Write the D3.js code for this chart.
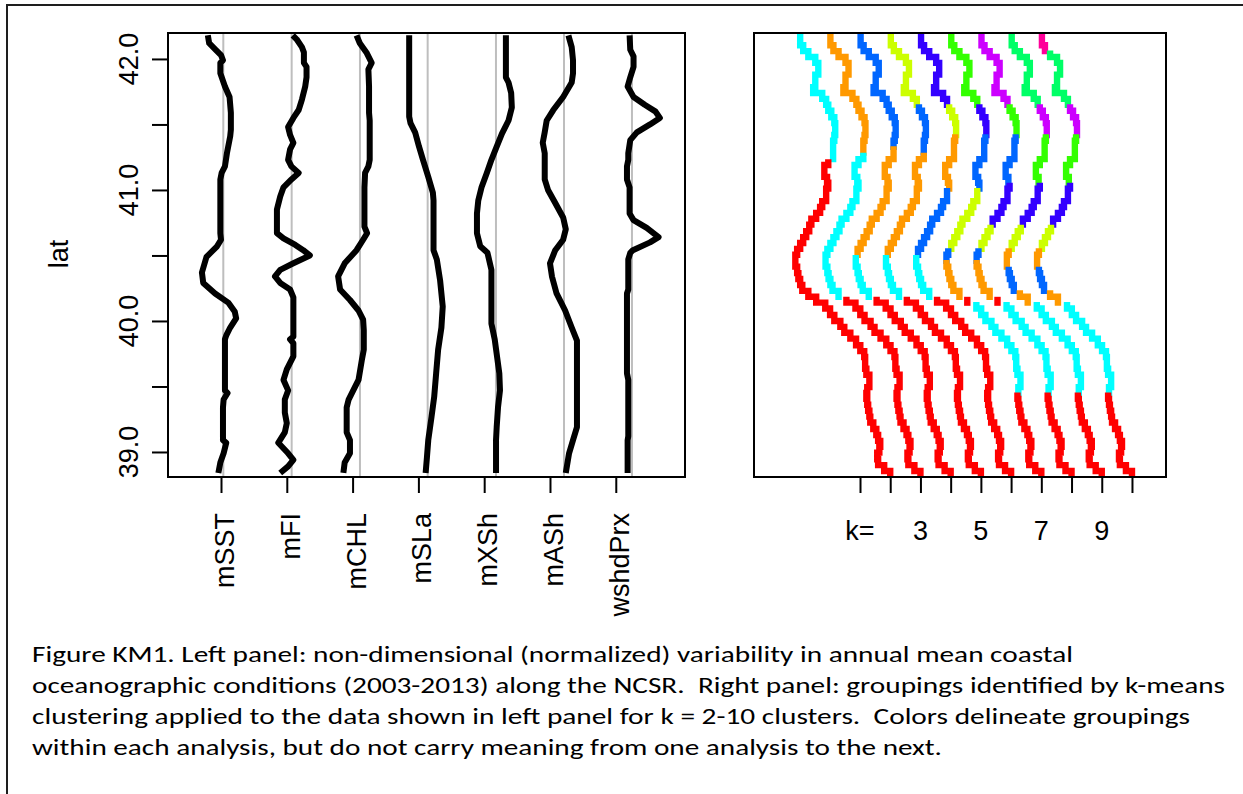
<!DOCTYPE html>
<html>
<head>
<meta charset="utf-8">
<script src="https://cdn.jsdelivr.net/npm/d3@7"></script>
<style>
  html, body { margin: 0; padding: 0; background: #fff; }
  svg { display: block; }
</style>
</head>
<body>
<svg id="fig" width="1243" height="794"></svg>
<script>
// ---------------- data ----------------
// Left panel: normalized profiles along latitude, [lat, x] with x in axis units
const variables = ["mSST", "mFI", "mCHL", "mSLa", "mXSh", "mASh", "wshdPrx"];
const guidePos = [1.035, 2.074, 3.112, 4.141, 5.179, 6.213, 7.246];

const mSST = [[42.18,0.80],[42.12,0.82],[42.07,0.92],[42.03,1.00],[41.99,1.03],[41.97,0.99],[41.89,0.99],[41.79,1.06],[41.71,1.13],[41.59,1.15],[41.46,1.15],[41.41,1.14],[41.28,1.09],[41.18,1.06],[41.13,1.01],[41.08,0.99],[40.67,0.99],[40.62,1.00],[40.57,0.94],[40.49,0.78],[40.37,0.71],[40.29,0.73],[40.21,0.91],[40.14,1.11],[40.07,1.21],[40.02,1.23],[39.95,1.14],[39.89,1.08],[39.86,1.06],[39.47,1.06],[39.45,1.10],[39.40,1.04],[39.34,1.03],[39.09,1.03],[39.07,1.08],[38.99,1.04],[38.92,0.99],[38.84,0.96]];

const mFI = [[42.18,2.09],[42.15,2.15],[42.09,2.23],[42.05,2.26],[41.97,2.26],[41.94,2.30],[41.86,2.30],[41.79,2.28],[41.69,2.23],[41.61,2.18],[41.55,2.10],[41.48,2.02],[41.42,2.05],[41.36,2.10],[41.31,2.05],[41.23,2.02],[41.18,2.07],[41.13,2.18],[41.08,2.07],[41.02,1.95],[40.95,1.90],[40.85,1.85],[40.67,1.85],[40.63,1.95],[40.58,2.13],[40.54,2.25],[40.50,2.35],[40.44,2.10],[40.39,1.90],[40.34,1.82],[40.29,1.90],[40.24,2.05],[40.18,2.10],[39.88,2.10],[39.86,2.05],[39.83,2.10],[39.73,2.10],[39.63,2.00],[39.55,1.95],[39.47,2.02],[39.40,1.97],[39.30,1.97],[39.22,2.00],[39.15,1.97],[39.07,1.87],[38.99,2.02],[38.94,2.10],[38.89,2.02],[38.84,1.90]];

const mCHL = [[42.18,3.06],[42.12,3.11],[42.05,3.21],[41.97,3.29],[41.92,3.24],[41.79,3.25],[41.59,3.25],[41.53,3.26],[41.23,3.26],[41.18,3.24],[41.13,3.19],[41.02,3.18],[40.72,3.18],[40.67,3.22],[40.62,3.16],[40.54,3.06],[40.44,2.88],[40.34,2.78],[40.24,2.81],[40.16,2.96],[40.08,3.09],[40.01,3.16],[39.93,3.17],[39.78,3.17],[39.70,3.14],[39.55,3.09],[39.47,3.01],[39.40,2.94],[39.34,2.91],[39.15,2.91],[39.09,2.96],[38.99,2.96],[38.92,2.88],[38.84,2.86]];

const mSLa = [[42.18,3.86],[41.56,3.86],[41.51,3.88],[41.44,3.95],[41.33,4.01],[41.23,4.07],[41.10,4.15],[40.98,4.22],[40.92,4.23],[40.54,4.23],[40.47,4.28],[40.31,4.33],[40.11,4.37],[39.95,4.35],[39.78,4.30],[39.60,4.27],[39.42,4.24],[39.27,4.20],[39.09,4.15],[38.96,4.13],[38.84,4.11]];

const mXSh = [[42.18,5.33],[41.86,5.33],[41.82,5.37],[41.74,5.41],[41.63,5.42],[41.53,5.37],[41.43,5.27],[41.33,5.19],[41.23,5.11],[41.13,5.04],[41.02,4.96],[40.92,4.91],[40.82,4.89],[40.67,4.89],[40.57,4.94],[40.52,5.05],[40.39,5.11],[40.24,5.11],[39.98,5.11],[39.86,5.16],[39.60,5.23],[39.47,5.24],[39.34,5.21],[39.19,5.19],[39.09,5.18],[38.84,5.18]];

const mASh = [[42.18,6.28],[42.09,6.33],[41.99,6.35],[41.89,6.35],[41.82,6.33],[41.71,6.20],[41.61,6.05],[41.53,5.95],[41.44,5.92],[41.36,5.89],[41.28,5.92],[41.08,5.92],[41.00,5.97],[40.90,6.08],[40.79,6.20],[40.70,6.24],[40.62,6.20],[40.54,6.08],[40.44,6.00],[40.34,6.03],[40.21,6.10],[40.08,6.23],[39.95,6.33],[39.85,6.41],[39.19,6.41],[39.09,6.35],[38.99,6.29],[38.84,6.24]];

const wshdPrx = [[42.18,7.21],[42.07,7.22],[42.02,7.27],[41.94,7.27],[41.86,7.22],[41.79,7.18],[41.71,7.27],[41.65,7.44],[41.60,7.60],[41.55,7.67],[41.50,7.52],[41.44,7.32],[41.38,7.22],[41.28,7.19],[41.23,7.19],[41.18,7.17],[41.08,7.17],[41.02,7.21],[40.82,7.21],[40.77,7.27],[40.71,7.47],[40.64,7.65],[40.60,7.52],[40.54,7.26],[40.52,7.22],[40.47,7.19],[40.24,7.19],[40.21,7.17],[39.60,7.17],[39.55,7.19],[39.12,7.19],[39.09,7.18],[38.84,7.18]];

const profiles = [mSST, mFI, mCHL, mSLa, mXSh, mASh, wshdPrx];
const latTicks = [39.0, 39.5, 40.0, 40.5, 41.0, 41.5, 42.0];

// Right panel: k-means groupings along the coast for k = 2..10
const kValues = [2, 3, 4, 5, 6, 7, 8, 9, 10];
const kTickPos = [1, 2, 3, 4, 5, 6, 7, 8, 9, 10];
const kTickLabels = ["k=", "2", "3", "4", "5", "6", "7", "8", "9", "10"];

// sample latitudes (north to south) and the shared horizontal offset of each column
const sampleLat = [42.18,42.13,42.08,42.04,41.99,41.95,41.90,41.86,41.81,41.76,41.72,41.67,41.63,41.58,41.53,41.49,41.44,41.40,41.35,41.31,41.26,41.21,41.17,41.12,41.08,41.03,40.99,40.94,40.89,40.85,40.80,40.76,40.71,40.66,40.62,40.57,40.53,40.48,40.44,40.39,40.34,40.30,40.25,40.21,40.16,40.12,40.07,40.02,39.98,39.93,39.89,39.84,39.79,39.75,39.70,39.66,39.61,39.57,39.52,39.47,39.43,39.38,39.34,39.29,39.25,39.20,39.15,39.11,39.06,39.02,38.97,38.92,38.88,38.83];
const sampleShift = [-2.98,-2.98,-2.88,-2.71,-2.48,-2.38,-2.38,-2.48,-2.48,-2.55,-2.25,-2.12,-2.05,-1.95,-1.85,-1.82,-1.82,-1.85,-1.89,-1.89,-1.89,-2.05,-2.18,-2.18,-2.09,-2.05,-2.12,-2.12,-2.25,-2.32,-2.45,-2.61,-2.68,-2.78,-2.88,-2.98,-3.08,-3.14,-3.14,-3.08,-3.04,-2.98,-2.91,-2.71,-2.45,-2.15,-1.99,-1.85,-1.65,-1.52,-1.32,-1.13,-0.99,-0.86,-0.83,-0.83,-0.79,-0.69,-0.69,-0.76,-0.79,-0.76,-0.73,-0.69,-0.66,-0.56,-0.46,-0.40,-0.33,-0.36,-0.43,-0.40,-0.20,0.00];

// palette (rainbow of 10 hues)
const rainbow10 = ["#FF0000", "#FF9900", "#CCFF00", "#33FF00", "#00FF66",
                   "#00FFFF", "#0066FF", "#3300FF", "#CC00FF", "#FF0099"];

// cluster runs per k: [palette index, first sample index]
const clusterRuns = [
  [[5,0],[0,21]],
  [[1,0],[5,20],[0,44]],
  [[6,0],[1,19],[5,37],[0,44]],
  [[2,0],[6,12],[1,20],[5,37],[0,44]],
  [[7,0],[2,12],[1,17],[6,26],[5,37],[0,44]],
  [[3,0],[7,12],[6,17],[2,26],[6,36],[1,38],[0,44],[5,45],[0,60]],
  [[8,0],[3,12],[6,17],[7,25],[2,32],[6,36],[1,38],[0,44],[5,45],[0,60]],
  [[4,0],[8,12],[3,17],[7,25],[2,32],[1,36],[6,39],[1,43],[5,45],[0,60]],
  [[9,0],[4,3],[8,12],[3,17],[7,25],[2,32],[1,36],[6,39],[1,43],[5,45],[0,60]]
];

const captionLines = [
  "Figure KM1. Left panel: non-dimensional (normalized) variability in annual mean coastal",
  "oceanographic conditions (2003-2013) along the NCSR.  Right panel: groupings identified by k-means",
  "clustering applied to the data shown in left panel for k = 2-10 clusters.  Colors delineate groupings",
  "within each analysis, but do not carry meaning from one analysis to the next."
];

// ---------------- drawing ----------------
const svg = d3.select("#fig");
const AXFONT = "'Liberation Sans', Arial, Helvetica, sans-serif";
const AXSIZE = 27;
const TICK = 16;

// outer frame of the figure
svg.append("rect")
  .attr("x", 7).attr("y", 5).attr("width", 1300).attr("height", 900)
  .attr("fill", "none").attr("stroke", "#1e1e1e").attr("stroke-width", 2);

const plotTop = 33, plotBottom = 477;
const y = d3.scaleLinear().domain([38.809, 42.198]).range([plotBottom, plotTop]);
const xL = d3.scaleLinear().domain([0.1945, 8.052]).range([168, 685]);
const xR = d3.scaleLinear().domain([-2.508, 11.126]).range([754, 1166]);

// place labels in order, skipping any that would crowd the previous one
function thinLabels(sel, extent, gap) {
  let lastEnd = -Infinity;
  sel.each(function () {
    const [a, b] = extent(this);
    if (a < lastEnd + gap) d3.select(this).remove();
    else lastEnd = b;
  });
}

// ---- left panel ----
const left = svg.append("g");
left.append("clipPath").attr("id", "clipL").append("rect")
  .attr("x", 168).attr("y", plotTop).attr("width", 685 - 168).attr("height", plotBottom - plotTop);

left.append("g").selectAll("line").data(guidePos).join("line")
  .attr("x1", d => xL(d)).attr("x2", d => xL(d))
  .attr("y1", plotTop).attr("y2", plotBottom)
  .attr("stroke", "#bebebe").attr("stroke-width", 2);

const line = d3.line().x(d => xL(d[1])).y(d => y(d[0]));
left.append("g").attr("clip-path", "url(#clipL)")
  .selectAll("path").data(profiles).join("path")
  .attr("d", line)
  .attr("fill", "none").attr("stroke", "#000").attr("stroke-width", 6)
  .attr("stroke-linejoin", "round").attr("stroke-linecap", "butt");

left.append("rect")
  .attr("x", 168).attr("y", plotTop).attr("width", 685 - 168).attr("height", plotBottom - plotTop)
  .attr("fill", "none").attr("stroke", "#000").attr("stroke-width", 2);

// y axis
const yAxis = left.append("g").attr("transform", "translate(168,0)")
  .call(d3.axisLeft(y).tickValues(latTicks).tickSize(TICK).tickFormat(""));
yAxis.select(".domain").remove();
yAxis.selectAll(".tick line").attr("stroke", "#000").attr("stroke-width", 2);
left.append("line").attr("x1", 168).attr("x2", 168)
  .attr("y1", y(latTicks[0])).attr("y2", y(latTicks[latTicks.length - 1]))
  .attr("stroke", "#000").attr("stroke-width", 2);

const yLabels = left.append("g").selectAll("text").data(latTicks).join("text")
  .attr("transform", d => `translate(138,${y(d)}) rotate(-90)`)
  .attr("text-anchor", "middle")
  .attr("font-family", AXFONT).attr("font-size", AXSIZE).attr("fill", "#000")
  .text(d => d3.format(".1f")(d));
thinLabels(yLabels, el => {
  const w = el.getComputedTextLength();
  const c = -y(el.__data__);
  return [c - w / 2, c + w / 2];
}, AXSIZE * 0.833);

left.append("text")
  .attr("transform", `translate(68,254) rotate(-90)`)
  .attr("text-anchor", "middle")
  .attr("font-family", AXFONT).attr("font-size", AXSIZE).attr("fill", "#000")
  .text("lat");

// x axis (variable names)
const varTicks = variables.map((v, i) => i + 1);
const xAxisL = left.append("g").attr("transform", `translate(0,${plotBottom})`)
  .call(d3.axisBottom(xL).tickValues(varTicks).tickSize(TICK).tickFormat(""));
xAxisL.select(".domain").remove();
xAxisL.selectAll(".tick line").attr("stroke", "#000").attr("stroke-width", 2);
left.append("line").attr("y1", plotBottom).attr("y2", plotBottom)
  .attr("x1", xL(varTicks[0])).attr("x2", xL(varTicks[varTicks.length - 1]))
  .attr("stroke", "#000").attr("stroke-width", 2);

left.append("g").selectAll("text").data(variables).join("text")
  .attr("transform", (d, i) => `translate(${xL(i + 1) + 13},513) rotate(-90)`)
  .attr("text-anchor", "end")
  .attr("font-family", AXFONT).attr("font-size", AXSIZE).attr("fill", "#000")
  .text(d => d);

// ---- right panel ----
const right = svg.append("g");
right.append("clipPath").attr("id", "clipR").append("rect")
  .attr("x", 754).attr("y", plotTop).attr("width", 1166 - 754).attr("height", plotBottom - plotTop);
const W = 6.4;                   // width of the stepped trace
const nS = sampleLat.length;
const traces = right.append("g").attr("clip-path", "url(#clipR)");

kValues.forEach((k, ki) => {
  const runs = clusterRuns[ki];
  const px = i => xR(k + sampleShift[i]);
  const py = i => y(sampleLat[i]);
  runs.forEach(([col, start], ri) => {
    const end = ri + 1 < runs.length ? runs[ri + 1][1] - 1 : nS - 1;
    // stepped path: vertical to the midpoint, across, then down to the sample
    let d = `M${px(start)},${py(start) - (start === 0 ? 0 : 0)}`;
    for (let i = start; i < end; i++) {
      const mid = (py(i) + py(i + 1)) / 2;
      d += `V${mid}H${px(i + 1)}V${py(i + 1)}`;
    }
    if (end < nS - 1) {
      const mid = (py(end) + py(end + 1)) / 2;
      d += `V${mid}`;
    }
    traces.append("path")
      .attr("d", d)
      .attr("fill", "none")
      .attr("stroke", rainbow10[col])
      .attr("stroke-width", W)
      .attr("stroke-linecap", "square")
      .attr("stroke-linejoin", "miter");
  });
});

right.append("rect")
  .attr("x", 754).attr("y", plotTop).attr("width", 1166 - 754).attr("height", plotBottom - plotTop)
  .attr("fill", "none").attr("stroke", "#000").attr("stroke-width", 2);

const xAxisR = right.append("g").attr("transform", `translate(0,${plotBottom})`)
  .call(d3.axisBottom(xR).tickValues(kTickPos).tickSize(TICK).tickFormat(""));
xAxisR.select(".domain").remove();
xAxisR.selectAll(".tick line").attr("stroke", "#000").attr("stroke-width", 2);
right.append("line").attr("y1", plotBottom).attr("y2", plotBottom)
  .attr("x1", xR(kTickPos[0])).attr("x2", xR(kTickPos[kTickPos.length - 1]))
  .attr("stroke", "#000").attr("stroke-width", 2);

const kLabels = right.append("g").selectAll("text").data(kTickPos).join("text")
  .attr("x", d => xR(d)).attr("y", 540)
  .attr("text-anchor", "middle")
  .attr("font-family", AXFONT).attr("font-size", AXSIZE).attr("fill", "#000")
  .text((d, i) => kTickLabels[i]);
thinLabels(kLabels, el => {
  const w = el.getComputedTextLength();
  const c = xR(el.__data__);
  return [c - w / 2, c + w / 2];
}, AXSIZE * 0.833);

// ---- caption ----
const capWidths = [1041, 1193, 1158, 910];
svg.append("g").selectAll("text").data(captionLines).join("text")
  .attr("x", 32).attr("y", (d, i) => 662 + i * 31)
  .attr("font-family", "Carlito, Calibri, Lato, sans-serif")
  .attr("font-size", 22.5).attr("fill", "#000")
  .style("white-space", "pre")
  .attr("textLength", (d, i) => capWidths[i])
  .attr("lengthAdjust", "spacingAndGlyphs")
  .text(d => d);
</script>
</body>
</html>
